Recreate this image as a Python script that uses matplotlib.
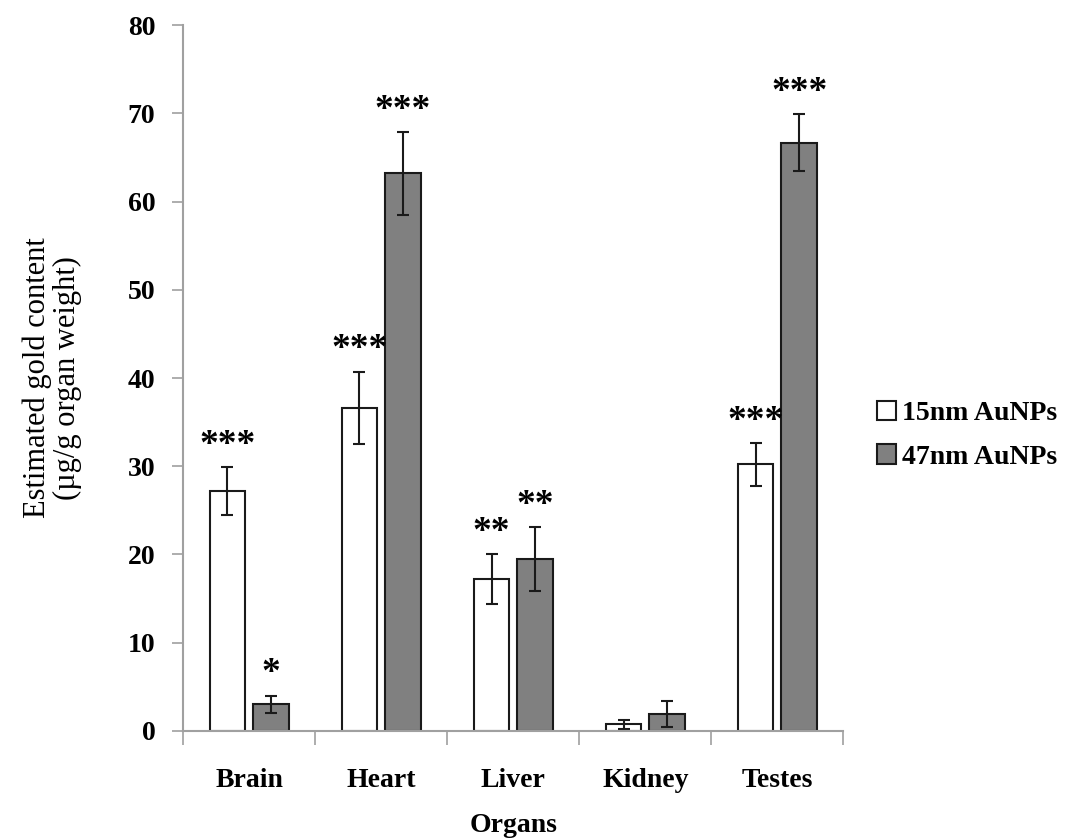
import numpy as np
import matplotlib
matplotlib.use('Agg')
import matplotlib.pyplot as plt

# Data
organs = ['Brain', 'Heart', 'Liver', 'Kidney', 'Testes']
gold15 = [27.2, 36.6, 17.2, 0.75, 30.2]   # 15nm AuNPs
err15 = [2.7, 4.1, 2.8, 0.5, 2.4]
gold47 = [3.0, 63.2, 19.5, 1.9, 66.7]     # 47nm AuNPs
err47 = [1.0, 4.7, 3.6, 1.45, 3.2]
stars15 = ['***', '***', '**', '', '***']
stars47 = ['*', '***', '**', '', '***']

plt.rcParams['font.family'] = ['Liberation Serif', 'DejaVu Serif']

fig = plt.figure(figsize=(10.65, 8.4), dpi=100)
ax = fig.add_axes([0.172, 0.13, 0.62, 0.84])

x = np.arange(len(organs))
w = 0.27
off = 0.165
ekw = dict(ecolor='#1a1a1a', elinewidth=1.5, capsize=4.5, capthick=1.5)
b1 = ax.bar(x - off, gold15, w, yerr=err15, color='white', edgecolor='#1a1a1a',
            linewidth=1.5, error_kw=ekw, label='15nm AuNPs')
b2 = ax.bar(x + off, gold47, w, yerr=err47, color='#808080', edgecolor='#1a1a1a',
            linewidth=1.5, error_kw=ekw, label='47nm AuNPs')

# significance marks
for i in range(len(organs)):
    if stars15[i]:
        ax.text(x[i] - off, gold15[i] + err15[i] + 0.5, stars15[i], ha='center', va='bottom',
                fontsize=27, fontweight='bold')
    if stars47[i]:
        ax.text(x[i] + off, gold47[i] + err47[i] + 0.5, stars47[i], ha='center', va='bottom',
                fontsize=27, fontweight='bold')

ax.set_xlim(-0.5, len(organs) - 0.5)
ax.set_ylim(0, 80)
ax.set_yticks(np.arange(0, 81, 10))
ax.set_xticks(x)
ax.set_xticklabels(organs, fontsize=20, fontweight='bold')
ax.set_xticks(np.arange(-0.5, len(organs), 1), minor=True)
ax.tick_params(axis='x', which='major', length=0, pad=27)
ax.tick_params(axis='x', which='minor', length=10, width=1.2, color='#a0a0a0', direction='out')
ax.tick_params(axis='y', length=8, width=1.2, color='#a0a0a0', pad=12)
for lab in ax.get_yticklabels():
    lab.set_fontsize(20)
    lab.set_fontweight('bold')

for s in ['top', 'right']:
    ax.spines[s].set_visible(False)
for s in ['left', 'bottom']:
    ax.spines[s].set_color('#a0a0a0')
    ax.spines[s].set_linewidth(1.5)

ax.set_xlabel('Organs', fontsize=20, fontweight='bold', labelpad=14)
ax.set_ylabel('Estimated gold content\n(\u00b5g/g organ weight)', fontsize=22, labelpad=33,
              linespacing=1.05)

fig.legend(handles=[b1, b2], loc='center left', bbox_to_anchor=(0.8, 0.482), frameon=False,
           prop={'size': 20, 'weight': 'bold'}, handlelength=0.7, handleheight=0.7,
           handletextpad=0.2, labelspacing=0.65)

fig.savefig('out.png', dpi=100)
